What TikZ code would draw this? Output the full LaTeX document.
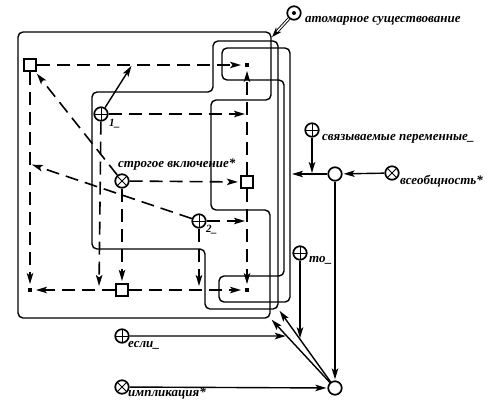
\documentclass[tikz,border=0pt]{standalone}
\usepackage{fontspec}
\setmainfont{Liberation Serif}
\usetikzlibrary{arrows.meta,calc}
\begin{document}
\begin{tikzpicture}[x=1pt,y=-1pt,
  contour/.style={line width=1.4pt, rounded corners=5pt},
  tipst/.style={-{Stealth[length=11pt,width=6.5pt,inset=2.5pt]}},
  varc/.style={line width=1.6pt, dash pattern=on 13pt off 7pt, tipst, shorten >=2pt},
  sarc/.style={line width=1.4pt, tipst, shorten >=1pt},
  sqnode/.style={draw, line width=1.7pt, minimum size=12.5pt, inner sep=0pt, fill=white},
  dotnode/.style={fill, minimum size=3.5pt, inner sep=0pt},
  cnode/.style={draw, circle, line width=1.7pt, minimum size=13.5pt, inner sep=0pt, fill=white},
  plusnode/.style={cnode, path picture={\draw[black, line width=1pt]
     (path picture bounding box.north) -- (path picture bounding box.south)
     (path picture bounding box.west) -- (path picture bounding box.east);}},
  crossnode/.style={cnode, path picture={\draw[black, line width=1pt]
     (path picture bounding box.north west) -- (path picture bounding box.south east)
     (path picture bounding box.north east) -- (path picture bounding box.south west);}},
  odotnode/.style={cnode, path picture={\fill[black] (path picture bounding box.center) circle (2pt);}},
  lbl/.style={font=\fontsize{13}{15}\selectfont\bfseries\itshape, inner sep=0pt, anchor=base west},
  slbl/.style={font=\fontsize{11}{13}\selectfont\bfseries\itshape, inner sep=0pt, anchor=base west},
]
\useasboundingbox (0,0) rectangle (492,400);

% contours
\draw[contour] (18,32) -- (271,32) -- (271,100) -- (211,100) -- (211,210) -- (270,210) -- (270,318) -- (18,318) -- cycle;
\draw[contour] (92,92) -- (213,92) -- (213,41) -- (278,41) -- (278,309) -- (205,309) -- (205,249) -- (92,249) -- cycle;
\draw[contour] (222,48) -- (290,48) -- (290,302) -- (219,302) -- (219,276) -- (284,276) -- (284,80) -- (222,80) -- cycle;

% nodes
\node[sqnode] (sqTL) at (30,65) {};
\node[dotnode] (dotA) at (247,65) {};
\node[dotnode] (dotB) at (30,290) {};
\node[dotnode] (dotC) at (247,290) {};
\node[sqnode] (sqR) at (247,182) {};
\node[sqnode] (sqB) at (122,290) {};
\node[crossnode] (strict) at (122,181) {};
\node[plusnode] (one) at (101,114) {};
\node[plusnode] (two) at (199,221) {};
\node[odotnode] (atom) at (294,13) {};
\node[cnode] (allC) at (335,174) {};
\node[crossnode] (forall) at (392,173) {};
\node[plusnode] (bound) at (312,130) {};
\node[plusnode] (to) at (300,253) {};
\node[plusnode] (esli) at (122,336) {};
\node[crossnode] (impl) at (122,387) {};
\node[cnode] (impC) at (335,388) {};

% labels
\node[lbl] (atomL) at (305,22) {атомарное существование};
\node[lbl] (boundL) at (322,140) {связываемые переменные\_};
\node[lbl] (forallL) at (400,184) {всеобщность*};
\node[lbl] (strictL) at (118,167) {строгое включение*};
\node[slbl] (oneL) at (109,126) {1\_};
\node[slbl] (twoL) at (206,232) {2\_};
\node[lbl] (toL) at (309,262) {то\_};
\node[lbl] (esliL) at (128,347) {если\_};
\node[lbl] (implL) at (128,396) {импликация*};

% helper coordinates
\coordinate (p1a) at ($(sqTL)!0.47!(dotA)$);
\coordinate (p1b) at (sqR |- one);
\coordinate (p1c) at ($(sqB)!0.25!(dotB)$);
\coordinate (p2a) at ($(sqTL)!0.44!(dotB)$);
\coordinate (p2b) at (sqR |- two);
\coordinate (p2c) at (two |- sqB);
\coordinate (c0c) at (271,319);
\coordinate (c1c) at (279,310);
\coordinate (c2r) at (291,174);
\coordinate (c0top) at (272,37);
\coordinate (bB) at (bound |- allC);
\coordinate (eR) at (esli -| impC);
\coordinate (eB) at (intersection cs: first line={(impC)--(c0c)}, second line={(esli)--(eR)});
\coordinate (tD) at (to |- impC);
\coordinate (tB) at (intersection cs: first line={(impC)--(c1c)}, second line={(to)--(tD)});

% variable (dashed) arcs
\draw[varc, shorten >=4pt] (sqTL) -- (dotA);
\draw[varc, shorten >=4pt] (sqTL) -- (dotB);
\draw[varc] (strict) -- (sqTL);
\draw[varc] (strict) -- (sqR);
\draw[varc] (strict) -- (sqB);
\draw[varc, shorten >=4pt] (sqR) -- (dotA);
\draw[varc, shorten >=4pt] (sqR) -- (dotC);
\draw[varc, shorten >=4pt] (sqB) -- (dotB);
\draw[varc, shorten >=4pt] (sqB) -- (dotC);
\draw[sarc] (one) -- (p1a);
\draw[varc] (one) -- (p1b);
\draw[varc, shorten >=4pt] (one) -- (p1c);
\draw[varc] (two) -- (p2a);
\draw[varc] (two) -- (p2b);
\draw[varc, shorten >=4pt] (two) -- (p2c);

% solid arcs
\draw[sarc] (forall) -- (allC);
\draw[sarc] (allC) -- (c2r);
\draw[sarc] (bound) -- (bB);
\draw[sarc] (allC) -- (impC);
\draw[sarc] (impl) -- (impC);
\draw[sarc] (esli) -- (eB);
\draw[sarc] (to) -- (tB);
\draw[sarc] (impC) -- (c0c);
\draw[sarc] (impC) -- (c1c);
\draw[line width=0.9pt, double, double distance=1.3pt, -{Stealth[length=10pt,width=7pt]}] (atom) -- (c0top);
\end{tikzpicture}
\end{document}
